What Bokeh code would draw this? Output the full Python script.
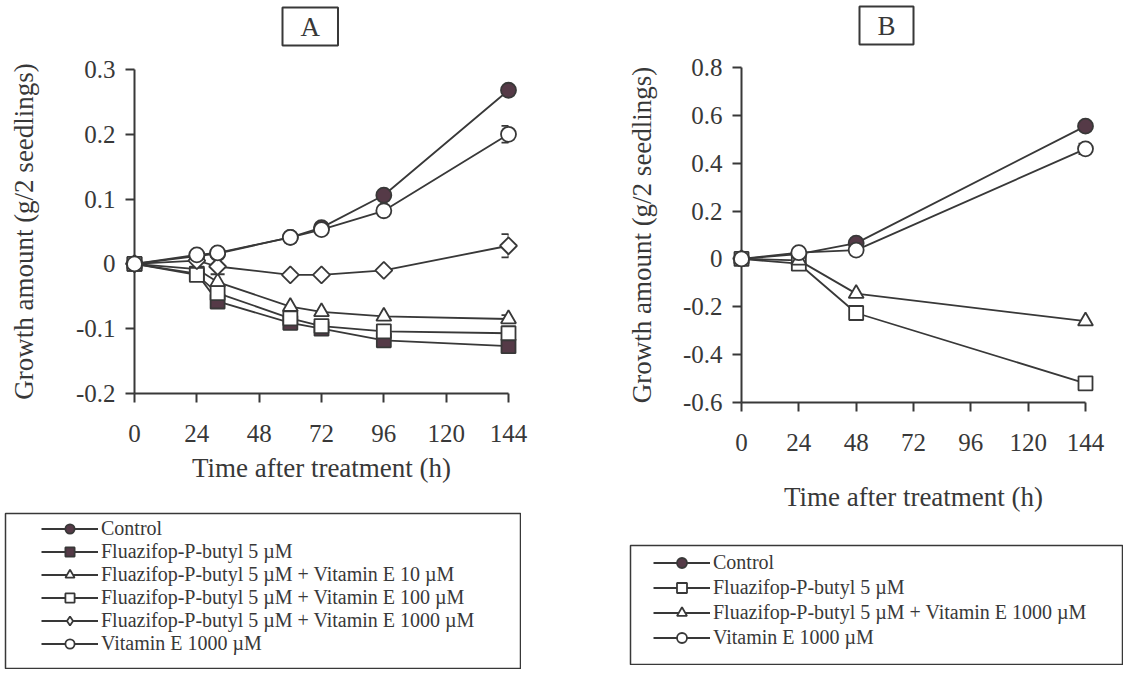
import numpy as np
from bokeh.plotting import figure
from bokeh.models import (Range1d, FixedTicker, Legend, LegendItem, Title,
                          Whisker, TeeHead, ColumnDataSource, Spacer)
from bokeh.layouts import row, column
from bokeh.embed import file_html
from bokeh.resources import INLINE

SERIF = "Liberation Serif"
INK = "#383838"
DARK = "#553a47"
WHITE = "#ffffff"

# ---- Panel A: six treatments -------------------------------------------
hours_a = [0, 24, 32, 60, 72, 96, 144]
control_a = [0, 0.012, 0.016, 0.041, 0.056, 0.106, 0.268]
fpb5_a = [0, -0.015, -0.058, -0.091, -0.100, -0.118, -0.127]
fpb5_ve10_a = [0, -0.008, -0.028, -0.066, -0.074, -0.081, -0.085]
fpb5_ve100_a = [0, -0.017, -0.045, -0.084, -0.096, -0.104, -0.107]
fpb5_ve1000_a = [0, 0.005, -0.004, -0.017, -0.017, -0.010, 0.028]
ve1000_a = [0, 0.014, 0.017, 0.041, 0.053, 0.082, 0.200]
err_fpb5_ve10_a = [0, 0, 0.012, 0, 0, 0, 0.006]
err_fpb5_ve1000_a = [0, 0, 0, 0, 0, 0, 0.018]
err_ve1000_a = [0, 0, 0, 0, 0, 0, 0.013]

# ---- Panel B: four treatments ------------------------------------------
hours_b = [0, 24, 48, 144]
control_b = [0, 0.020, 0.066, 0.555]
fpb5_b = [0, -0.020, -0.226, -0.520]
fpb5_ve1000_b = [0, -0.006, -0.145, -0.260]
ve1000_b = [0, 0.026, 0.037, 0.460]
err_ve1000_b = [0, 0, 0, 0.022]

hour_ticks = [0, 24, 48, 72, 96, 120, 144]
y_ticks_a = [-0.2, -0.1, 0, 0.1, 0.2, 0.3]
y_labels_a = ["-0.2", "-0.1", "0", "0.1", "0.2", "0.3"]
y_ticks_b = [-0.6, -0.4, -0.2, 0, 0.2, 0.4, 0.6, 0.8]
y_labels_b = ["-0.6", "-0.4", "-0.2", "0", "0.2", "0.4", "0.6", "0.8"]

LBL_CONTROL = "Control"
LBL_FPB5 = "Fluazifop-P-butyl 5 µM"
LBL_FPB5_VE10 = "Fluazifop-P-butyl 5 µM + Vitamin E 10 µM"
LBL_FPB5_VE100 = "Fluazifop-P-butyl 5 µM + Vitamin E 100 µM"
LBL_FPB5_VE1000 = "Fluazifop-P-butyl 5 µM + Vitamin E 1000 µM"
LBL_VE1000 = "Vitamin E 1000 µM"

# marker styles for the plotted points
MARKS = {
    "filled_circle": dict(marker="circle", size=15, fill_color=DARK),
    "filled_square": dict(marker="square", size=14, fill_color=DARK),
    "triangle": dict(marker="triangle", size=15, fill_color=WHITE),
    "square": dict(marker="square", size=14, fill_color=WHITE),
    "diamond": dict(marker="square", size=12, angle=np.pi / 4, fill_color=WHITE),
    "circle": dict(marker="circle", size=15, fill_color=WHITE),
}
# legend swatches (legend glyphs ignore the angle, so use Bokeh's diamond)
KEY_MARKS = dict(MARKS, diamond=dict(marker="diamond", size=14, fill_color=WHITE))

series_a = [
    (LBL_CONTROL, control_a, None, "filled_circle"),
    (LBL_FPB5, fpb5_a, None, "filled_square"),
    (LBL_FPB5_VE10, fpb5_ve10_a, err_fpb5_ve10_a, "triangle"),
    (LBL_FPB5_VE100, fpb5_ve100_a, None, "square"),
    (LBL_FPB5_VE1000, fpb5_ve1000_a, err_fpb5_ve1000_a, "diamond"),
    (LBL_VE1000, ve1000_a, err_ve1000_a, "circle"),
]
series_b = [
    (LBL_CONTROL, control_b, None, "filled_circle"),
    (LBL_FPB5, fpb5_b, None, "square"),
    (LBL_FPB5_VE1000, fpb5_ve1000_b, None, "triangle"),
    (LBL_VE1000, ve1000_b, err_ve1000_b, "circle"),
]


def style_axes(p, yticks, ylabels, y_std, x_std):
    for ax in p.axis:
        ax.axis_line_color = INK
        ax.axis_line_width = 2
        ax.major_tick_line_color = INK
        ax.major_tick_line_width = 2
        ax.major_tick_out = 9
        ax.major_tick_in = 0
        ax.minor_tick_out = 0
        ax.minor_tick_in = 0
        ax.major_label_text_font = SERIF
        ax.major_label_text_font_size = "25px"
        ax.major_label_text_color = INK
        ax.axis_label_text_font = SERIF
        ax.axis_label_text_font_size = "27px"
        ax.axis_label_text_font_style = "normal"
        ax.axis_label_text_color = INK
    p.xaxis.ticker = FixedTicker(ticks=hour_ticks)
    p.xaxis.major_label_standoff = 22
    p.xaxis.axis_label = "Time after treatment (h)"
    p.xaxis.axis_label_standoff = x_std
    p.yaxis.ticker = FixedTicker(ticks=yticks)
    p.yaxis.major_label_overrides = dict(zip(yticks, ylabels))
    p.yaxis.major_label_standoff = 10
    p.yaxis.axis_label = "Growth amount (g/2 seedlings)"
    p.yaxis.axis_label_standoff = y_std
    p.grid.visible = False
    p.outline_line_color = None


def draw_series(p, hours, series):
    for _, vals, _, _ in series:
        p.line(hours, vals, line_color=INK, line_width=1.8, level="annotation")
    for _, vals, err, style in series:
        if err is not None:
            idx = [i for i, e in enumerate(err) if e > 0]
            src = ColumnDataSource(dict(
                x=[hours[i] for i in idx],
                lo=[vals[i] - err[i] for i in idx],
                hi=[vals[i] + err[i] for i in idx],
            ))
            p.add_layout(Whisker(
                source=src, base="x", lower="lo", upper="hi",
                line_color=INK, line_width=1.8,
                lower_head=TeeHead(size=14, line_color=INK, line_width=1.8),
                upper_head=TeeHead(size=14, line_color=INK, line_width=1.8),
            ))
        p.scatter(hours, vals, line_color=INK, line_width=1.8,
                  level="annotation", **MARKS[style])


def panel_tag(p, text, offset, gap_standoff):
    # blank title row that keeps the boxed tag clear of the frame
    p.add_layout(Title(text=" ", text_font_size="10px",
                       standoff=gap_standoff), "above")
    p.add_layout(Title(
        text=text, align="left", offset=offset, standoff=2,
        text_font=SERIF, text_font_size="27px", text_font_style="normal",
        text_color=INK, border_line_color=INK, border_line_width=2,
        background_fill_color=WHITE, padding=(18, 4),
    ), "above")


def legend_panel(series, w, h, row_h, vx, vy, pad):
    p = figure(width=w, height=h, x_range=Range1d(0, 1), y_range=Range1d(0, 1),
               x_axis_location=None, y_axis_location=None,
               toolbar_location=None, output_backend="svg", min_border=1,
               outline_line_color=INK, outline_line_width=1.5)
    p.grid.visible = False
    items = []
    for label, _, _, style in series:
        # legend-only proxies: a single undefined point draws nothing here
        ln = p.line([np.nan], [np.nan], line_color=INK, line_width=1.8)
        mk = p.scatter([np.nan], [np.nan], line_color=INK, line_width=1.8,
                       **KEY_MARKS[style])
        items.append(LegendItem(label=label, renderers=[ln, mk]))
    lg = Legend(items=items, location=(vx, vy), padding=pad, margin=0,
                spacing=0, glyph_width=57, glyph_height=row_h,
                label_height=row_h, label_standoff=3,
                label_text_font=SERIF, label_text_font_size="20px",
                label_text_color=INK, border_line_color=None,
                background_fill_alpha=0)
    p.add_layout(lg)
    return p


# Panel A figure
pa = figure(width=600, height=512, x_range=Range1d(0, 144),
            y_range=Range1d(-0.2, 0.3), min_border_left=134,
            min_border_right=92, min_border_top=69, min_border_bottom=119,
            toolbar_location=None, output_backend="svg")
style_axes(pa, y_ticks_a, y_labels_a, y_std=34, x_std=8)
draw_series(pa, hours_a, series_a)
panel_tag(pa, "A", 148, 10)

# Panel B figure
pb = figure(width=527, height=544, x_range=Range1d(0, 144),
            y_range=Range1d(-0.6, 0.8), min_border_left=141,
            min_border_right=42, min_border_top=67, min_border_bottom=142,
            toolbar_location=None, output_backend="svg")
style_axes(pb, y_ticks_b, y_labels_b, y_std=23, x_std=28)
draw_series(pb, hours_b, series_b)
panel_tag(pb, "B", 118, 9)

leg_a = legend_panel(series_a, 517, 157, 23, 36, 13, 2)
leg_b = legend_panel(series_b, 494, 121, 25, 23, 14, 2)

layout = row(
    column(pa, row(Spacer(width=4), leg_a)),
    column(pb, row(Spacer(width=29), leg_b)),
)

open("out.html", "w").write(file_html(layout, INLINE))
